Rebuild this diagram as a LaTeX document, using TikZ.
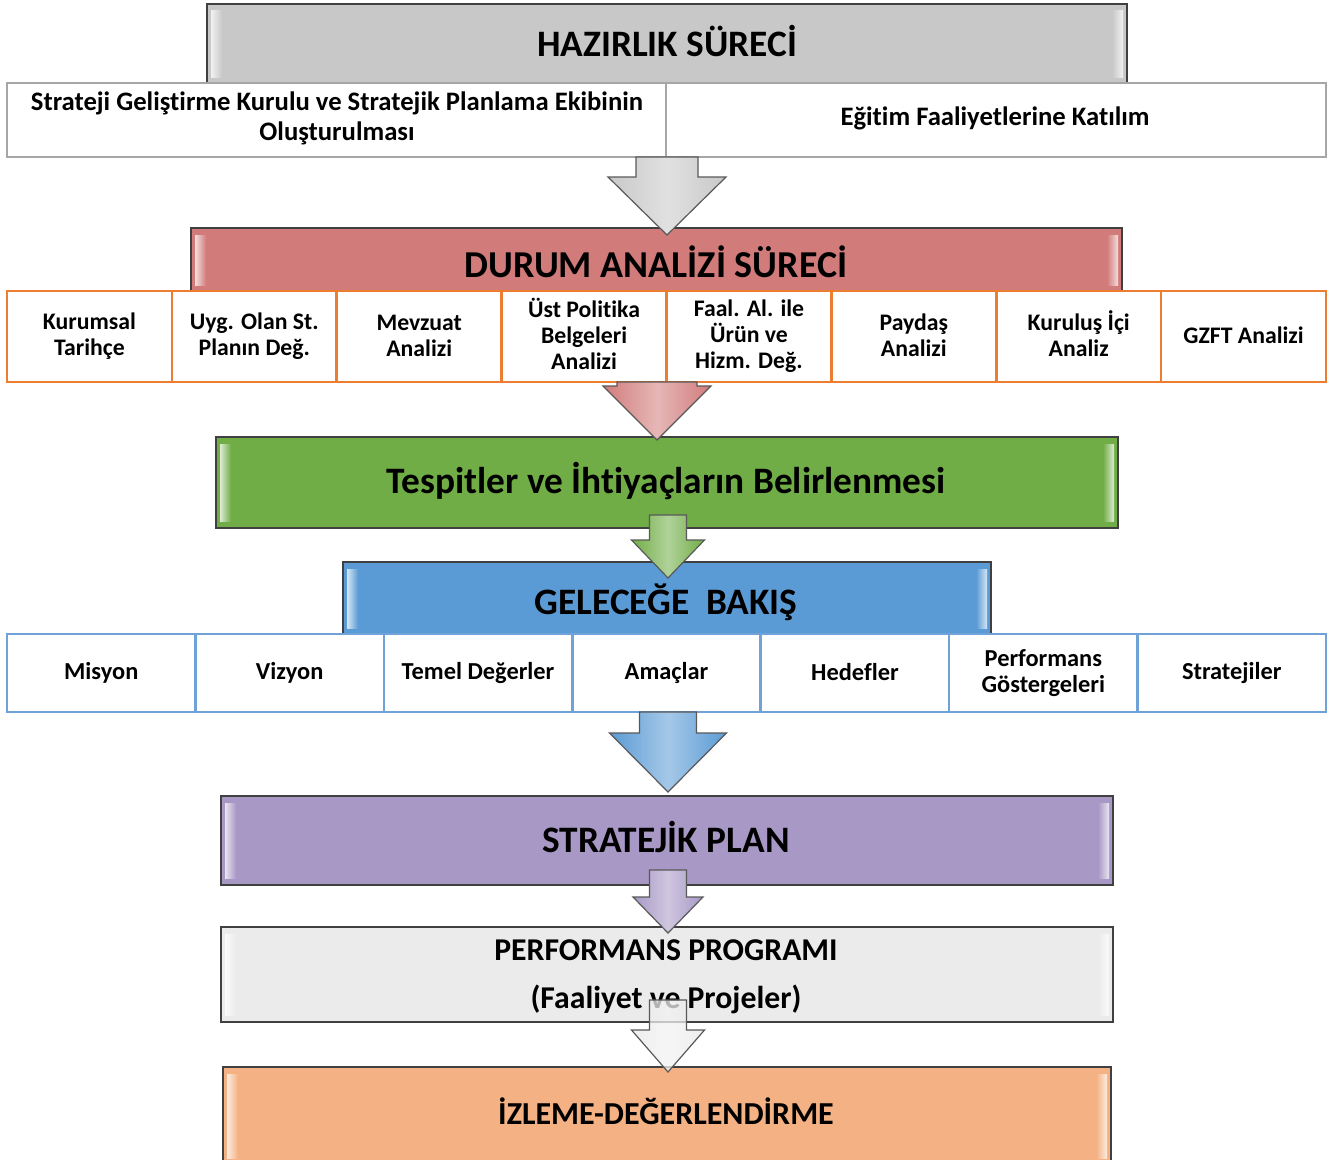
\documentclass[tikz,border=0pt]{standalone}
\usepackage{fontspec}
\setmainfont{Carlito}[Ligatures=NoCommon]
\usetikzlibrary{fit,calc}
\definecolor{cHaz}{HTML}{C8C8C8}
\definecolor{cDur}{HTML}{D17C7B}
\definecolor{cGrn}{HTML}{71AD47}
\definecolor{cBlu}{HTML}{5B9BD5}
\definecolor{cPur}{HTML}{A898C6}
\definecolor{cPerf}{HTML}{EBEBEB}
\definecolor{cIzl}{HTML}{F4B183}
\definecolor{cOr}{HTML}{ED7D31}
\definecolor{cGl}{HTML}{A6A6A6}
\definecolor{cBl}{HTML}{6FA3D8}
\definecolor{cWa}{HTML}{E8E8E8}
\newcommand\bevel[2]{%
  \shade[left color=#2!25!white, right color=#2] ($(#1.north west)+(4,7)$) rectangle ($(#1.south west)+(15,-7)$);
  \shade[right color=#2!25!white, left color=#2] ($(#1.north east)+(-15,7)$) rectangle ($(#1.south east)+(-4,-7)$);}
\newcommand\barrow[8]{%
  \path[draw=black!65, line width=0.9pt, left color=#7, right color=#7, middle color=#7!55!white, fill opacity=#8]
  ({#1-#5},#2) -- ({#1+#5},#2) -- ({#1+#5},#3) -- ({#1+#6},#3) -- (#1,#4) -- ({#1-#6},#3) -- ({#1-#5},#3) -- cycle;}
\begin{document}
\begin{tikzpicture}[x=0.75pt,y=-0.75pt,
  mainbox/.style={draw=black!75, line width=1.5pt, inner sep=0pt, outer sep=0pt},
  cellg/.style={draw=cGl, line width=2.2pt, fill=white, inner sep=0pt, outer sep=0pt},
  cello/.style={draw=cOr, line width=2pt, fill=white, inner sep=0pt, outer sep=0pt},
  cellb/.style={draw=cBl, line width=2pt, fill=white, inner sep=0pt, outer sep=0pt},
  ttl/.style={font=\fontsize{28}{32}\selectfont\bfseries, inner sep=0pt},
  cell/.style={font=\fontsize{17.8}{19.5}\selectfont\bfseries, align=center, inner sep=0pt},
  cellc/.style={font=\fontsize{18.3}{19.5}\selectfont\bfseries, align=center, inner sep=0pt},
  celll/.style={font=\fontsize{20}{22.5}\selectfont\bfseries, align=center, inner sep=0pt}]
\useasboundingbox (0,0) rectangle (1344,1159);

% HAZIRLIK
\node[mainbox, fill=cHaz, fit={(207,4) (1127,85)}] (haz) {};
\bevel{haz}{cHaz}
\node[ttl] (hazt) at (667,41) {HAZIRLIK SÜRECİ};
\node[cellg, fit={(7,83) (666,157)}] (r1a) {};
\node[cellg, fit={(666,83) (1326,157)}] (r1b) {};
\node[celll] (r1at) at (337,118) {Strateji Geliştirme Kurulu ve Stratejik Planlama Ekibinin\\Oluşturulması};
\node[celll] (r1bt) at (995,118) {Eğitim Faaliyetlerine Katılım};

% DURUM
\node[mainbox, fill=cDur, fit={(191,228) (1122,292)}] (dur) {};
\bevel{dur}{cDur}
\node[ttl, font=\fontsize{28.5}{32}\selectfont\bfseries] (durt) at (656,262) {DURUM ANALİZİ SÜRECİ};
\foreach \i/\t/\dy in {1/{Kurumsal\\Tarihçe}/0, 2/{Uyg. Olan St.\\Planın Değ.}/0, 3/{Mevzuat\\Analizi}/-1, 4/{Üst Politika\\Belgeleri\\Analizi}/-3, 5/{Faal. Al. ile\\Ürün ve\\Hizm. Değ.}/0, 6/{Paydaş\\Analizi}/-1, 7/{Kuruluş İçi\\Analiz}/-3, 8/{GZFT Analizi}/-1}{
  \pgfmathsetmacro\xa{7+(\i-1)*164.875}
  \pgfmathsetmacro\xb{7+\i*164.875}
  \node[cello, fit={(\xa,291) (\xb,382)}] (o\i) {};
  \node[cell] (ot\i) at ($(o\i.center)+(0,\dy)$) {\t};
}

% Tespitler
\node[mainbox, fill=cGrn, fit={(216,437) (1118,528)}] (tes) {};
\bevel{tes}{cGrn}
\node[ttl] (test) at (666,481) {Tespitler ve İhtiyaçların Belirlenmesi};

% GELECEGE
\node[mainbox, fill=cBlu, fit={(343,562) (991,635)}] (gel) {};
\bevel{gel}{cBlu}
\node[ttl] (gelt) at (666,602) {GELECEĞE\ \ BAKIŞ};
\foreach \i/\t/\dy in {1/{Misyon}/0, 2/{Vizyon}/0, 3/{Temel Değerler}/0, 4/{Amaçlar}/0, 5/{Hedefler}/-1, 6/{Performans\\Göstergeleri}/0, 7/{Stratejiler}/0}{
  \pgfmathsetmacro\xa{7+(\i-1)*188.43}
  \pgfmathsetmacro\xb{7+\i*188.43}
  \node[cellb, fit={(\xa,634) (\xb,712)}] (b\i) {};
  \node[cellc] (bt\i) at ($(b\i.center)+(0,\dy)$) {\t};
}

% STRATEJIK PLAN
\node[mainbox, fill=cPur, fit={(221,796) (1113,885)}] (sp) {};
\bevel{sp}{cPur}
\node[ttl] (spt) at (666,837) {STRATEJİK PLAN};

% PERFORMANS
\node[mainbox, fill=cPerf, fit={(221,927) (1113,1022)}] (pp) {};
\bevel{pp}{cPerf}
\node[ttl, font=\fontsize{23.8}{26}\selectfont\bfseries] (ppt1) at (666,950) {PERFORMANS PROGRAMI};
\node[ttl, font=\fontsize{23.8}{26}\selectfont\bfseries] (ppt2) at (666,999) {(Faaliyet ve Projeler)};

% IZLEME
\node[mainbox, fill=cIzl, fit={(223,1067) (1111,1165)}] (iz) {};
\bevel{iz}{cIzl}
\node[ttl, font=\fontsize{24}{26}\selectfont\bfseries] (izt) at (666,1111) {İZLEME-DEĞERLENDİRME};

% arrows
\barrow{667}{157}{177}{235}{31}{59}{cHaz}{1}
\barrow{657}{382}{386}{440}{40}{54}{cDur}{1}
\barrow{668}{515}{540}{578}{18.5}{36.5}{cGrn}{1}
\barrow{668}{712}{733}{792}{28.5}{58.5}{cBlu}{1}
\barrow{668}{870}{897}{933}{18.5}{35}{cPur}{1}
\barrow{668}{1000}{1030}{1072}{18.5}{36.5}{cWa}{0.75}
\end{tikzpicture}
\end{document}
